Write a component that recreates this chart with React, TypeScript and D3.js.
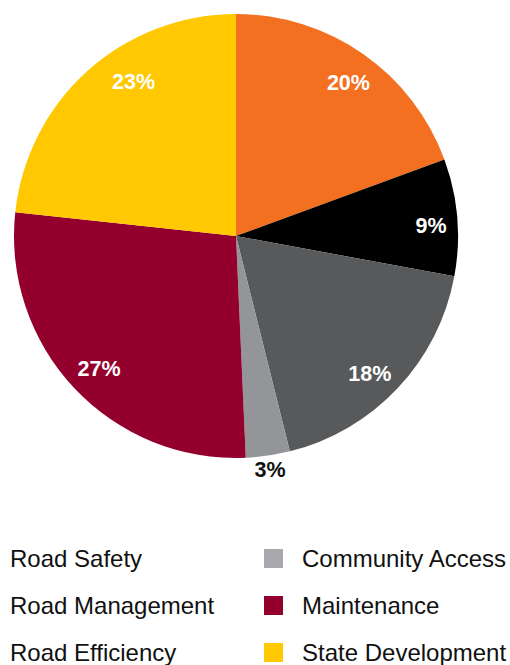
import React from "react";
import * as d3 from "d3";

const categories = ["Road Safety", "Road Management", "Road Efficiency", "Community Access", "Maintenance", "State Development"];
const values = [19.4, 8.5, 18.2, 3.2, 27.4, 23.3];
const labels = ["20%", "9%", "18%", "3%", "27%", "23%"];
const colors = ["#F37021", "#000000", "#58595B", "#939598", "#93002D", "#FFC800"];
const legendLeft = ["Road Safety", "Road Management", "Road Efficiency"];
const legendRight = ["Community Access", "Maintenance", "State Development"];
const legendRightColors = ["#A7A9AC", "#93002D", "#FFC800"];

// label placement within each slice (fraction of its sweep, radius fraction of pie radius)
const labelFrac = [0.52, 0.56, 0.54, 0.5, 0.49, 0.6];
const labelRadiusFrac = [0.855, 0.88, 0.865, 1.065, 0.86, 0.835];

export default function App() {
  const W = 510, H = 665;
  const cx = 236, cy = 236, R = 222;
  const pie = d3.pie<number>().sort(null).value((d) => d);
  const arcs = pie(values);
  const arc = d3.arc<d3.PieArcDatum<number>>().innerRadius(0).outerRadius(R);
  const rowY = d3.scaleLinear().domain([0, 1]).range([567, 614]);
  void categories;
  return (
    <svg width={W} height={H} style={{ position: "absolute", left: 0, top: 0 }}
      fontFamily="'Liberation Sans', Arial, Helvetica, sans-serif">
      <g transform={`translate(${cx},${cy})`}>
        {arcs.map((a, i) => (
          <path key={i} d={arc(a) || ""} fill={colors[i]} />
        ))}
        {arcs.map((a, i) => {
          const ang = a.startAngle + labelFrac[i] * (a.endAngle - a.startAngle);
          const r = labelRadiusFrac[i] * R;
          const x = Math.sin(ang) * r;
          const y = -Math.cos(ang) * r;
          const outside = labelRadiusFrac[i] > 1;
          return (
            <text key={"l" + i} x={x} y={y} textAnchor="middle" dominantBaseline="central"
              fontWeight="bold" fontSize={21.5} fill={outside ? "#111" : "#fff"}>
              {labels[i]}
            </text>
          );
        })}
      </g>
      <g>
        {legendLeft.map((t, i) => (
          <text key={"ll" + i} x={10} y={rowY(i)} fontSize={24} fill="#111">{t}</text>
        ))}
        {legendRight.map((t, i) => (
          <g key={"lr" + i}>
            <rect x={264} y={rowY(i) - 18} width={19} height={19} fill={legendRightColors[i]} />
            <text x={302} y={rowY(i)} fontSize={24} fill="#111">{t}</text>
          </g>
        ))}
      </g>
    </svg>
  );
}
